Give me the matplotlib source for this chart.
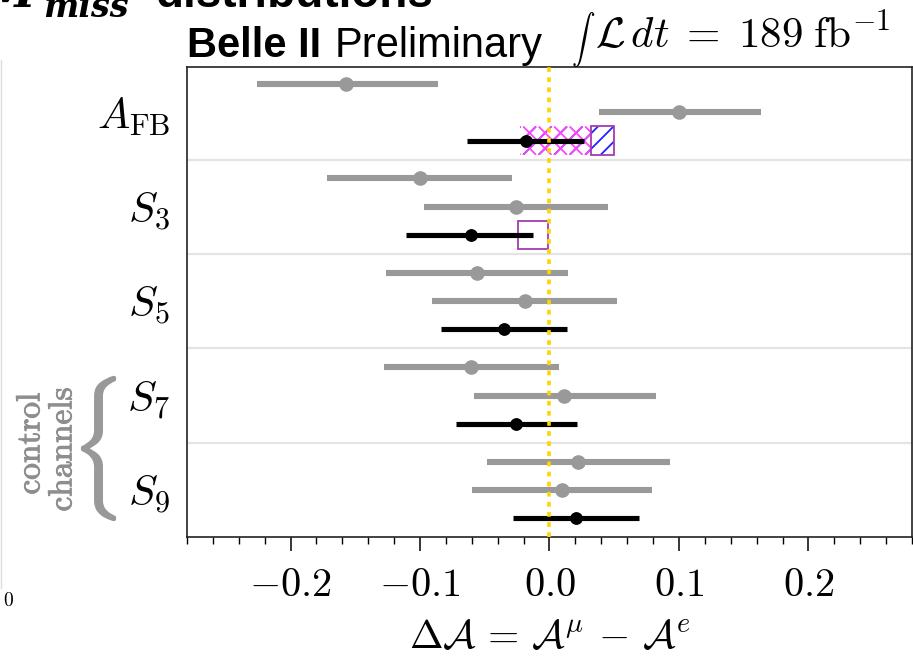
import numpy as np
import matplotlib
matplotlib.use("Agg")
import matplotlib.pyplot as plt
from matplotlib.patches import Rectangle, PathPatch
from matplotlib.textpath import TextPath
from matplotlib.transforms import Affine2D
from matplotlib.lines import Line2D
import matplotlib.patheffects as pe

plt.rcParams['mathtext.fontset'] = 'cm'

# ---------------- data ----------------
observables = [r'$A_{\rm FB}$', r'$S_3$', r'$S_5$', r'$S_7$', r'$S_9$']

gray1_val = [-0.157, -0.100, -0.056, -0.061, 0.022]
gray1_lo  = [-0.226, -0.172, -0.126, -0.128, -0.048]
gray1_hi  = [-0.086, -0.029, 0.014, 0.0075, 0.093]

gray2_val = [0.100, -0.026, -0.019, 0.011, 0.0095]
gray2_lo  = [0.038, -0.097, -0.091, -0.058, -0.060]
gray2_hi  = [0.163, 0.045, 0.052, 0.082, 0.079]

black_val = [-0.0185, -0.061, -0.0355, -0.0255, 0.0203]
black_lo  = [-0.064, -0.111, -0.084, -0.072, -0.028]
black_hi  = [0.027, -0.0124, 0.0137, 0.0214, 0.0695]

# prediction bands (x ranges)
afb_cross = (-0.0224, 0.0322)
afb_blue  = (-0.0224, 0.0497)
afb_box   = (0.0322, 0.0497)
s3_box    = (-0.024, -0.0015)

xticks = [-0.2, -0.1, 0.0, 0.1, 0.2]
xtick_labels = [r'$-0.2$', r'$-0.1$', r'$0.0$', r'$0.1$', r'$0.2$']

# ---------------- layout ----------------
W, H = 913, 658
fig = plt.figure(figsize=(W/100, H/100), dpi=100)
ax_l, ax_r, ax_t, ax_b = 187, 912, 67, 537
ax = fig.add_axes([ax_l/W, 1-ax_b/H, (ax_r-ax_l)/W, (ax_b-ax_t)/H])

stride = 10/3
n = len(observables)
def ypos(k, j):
    return -(k*stride + j)

ax.set_xlim(-0.28, 0.28)
ax.set_ylim(ypos(n-1, 2) - 0.66, 0.6)

gray = '#999999'
for k in range(n):
    for j, (v, lo, hi, col, lw, ms) in enumerate([
            (gray1_val[k], gray1_lo[k], gray1_hi[k], gray, 4.4, 9.5),
            (gray2_val[k], gray2_lo[k], gray2_hi[k], gray, 4.4, 9.5),
            (black_val[k], black_lo[k], black_hi[k], 'black', 3.7, 8.2)]):
        ax.errorbar([v], [ypos(k, j)], xerr=[[v-lo], [hi-v]], fmt='o',
                    color=col, ms=ms, elinewidth=lw, capsize=0, zorder=4)

# separators
for k in range(n-1):
    ax.axhline(ypos(k, 2) - (stride-2)/2, color='#e4e4e4', lw=1.6, zorder=1)


def hatch_rect(x0, x1, y0, y1, direction, color, spacing=15.5, lw=1.3):
    """diagonal hatch lines (45 deg on screen) clipped to a data rectangle"""
    clip = Rectangle((x0, y0), x1 - x0, y1 - y0, transform=ax.transData,
                     facecolor='none', edgecolor='none')
    ax.add_patch(clip)
    (px0, py0) = ax.transData.transform((x0, y0))
    (px1, py1) = ax.transData.transform((x1, y1))
    inv = ax.transData.inverted()
    h = py1 - py0
    for c in np.arange(px0 - h - spacing, px1 + spacing, spacing):
        if direction > 0:
            pts = [(c, py0), (c + h, py1)]
        else:
            pts = [(c + h, py0), (c, py1)]
        d = inv.transform(pts)
        ln, = ax.plot(d[:, 0], d[:, 1], color=color, lw=lw, zorder=3,
                      solid_capstyle='butt')
        ln.set_clip_path(clip)


yb = ypos(0, 2)
hatch_rect(afb_blue[0], afb_blue[1], yb - 0.5, yb + 0.5, +1, '#2222ff')
hatch_rect(afb_cross[0], afb_cross[1], yb - 0.5, yb + 0.5, +1, '#ff44ff')
hatch_rect(afb_cross[0], afb_cross[1], yb - 0.5, yb + 0.5, -1, '#ff44ff')
ax.add_patch(Rectangle((afb_box[0], yb-0.5), afb_box[1]-afb_box[0], 1.0,
                       fill=False, edgecolor='#a33cb0', lw=1.3, zorder=3))
yb3 = ypos(1, 2)
ax.add_patch(Rectangle((s3_box[0], yb3-0.5), s3_box[1]-s3_box[0], 1.0,
                       fill=False, edgecolor='#a33cb0', lw=1.3, zorder=3))

# zero line
ax.axvline(0.0, color='#ffd400', lw=2.6, ls=(0, (1.3, 1.5)), zorder=6)

ax.set_xticks(xticks)
ax.set_xticklabels(xtick_labels, fontsize=29)
ax.set_xticks(np.arange(-0.28, 0.2801, 0.02), minor=True)
ax.tick_params(axis='x', which='major', direction='out', length=10, width=1.1, pad=10)
ax.tick_params(axis='x', which='minor', direction='out', length=5, width=1.0)
ax.set_yticks([ypos(k, 1) for k in range(n)])
ax.set_yticklabels(observables, fontsize=31)
ax.tick_params(axis='y', length=0, pad=12)
ax.set_xlabel(r'$\Delta\mathcal{A} \,=\, \mathcal{A}^{\mu} \,-\, \mathcal{A}^{e}$',
              fontsize=29, labelpad=9)
for s in ax.spines.values():
    s.set_linewidth(1.2)
    s.set_color('#222222')

# ---------------- header texts ----------------
fig.text(187/W, 1-57/H, 'Belle II', fontweight='bold', family='Liberation Sans',
         fontsize=30, va='baseline', ha='left')
fig.text(335/W, 1-57/H, 'Preliminary', family='Liberation Sans',
         fontsize=30, va='baseline', ha='left')
fig.text(571/W, 1-47/H, r'$\int$', fontsize=17, va='baseline', ha='left')
fig.text(595/W, 1-48/H, r'$\mathcal{L}\,dt\;=\;189\;\mathrm{fb}^{-1}$',
         fontsize=31, va='baseline', ha='left')

# slide title (cut at top)
fig.text(155/W, 1-7/H, 'distributions', fontweight='bold', family='Liberation Sans',
         fontsize=33, va='baseline', ha='left')
fig.text(35/W, 1-7/H, 'M', fontweight='bold', style='italic', family='DejaVu Serif',
         fontsize=33, va='baseline', ha='right')
fig.text(43/W, 1-17/H, 'miss', fontweight='bold', style='italic', family='DejaVu Serif',
         fontsize=24, va='baseline', ha='left')

# control channels annotation
cc = '#8e8e8e'
for x, y, s in [(30, 443, r'$\mathrm{control}$'), (62, 449, r'$\mathrm{channels}$')]:
    fig.text(x/W, 1-y/H, s, rotation=90, fontsize=24, color=cc, ha='center', va='center',
             path_effects=[pe.withStroke(linewidth=0.7, foreground=cc)])
tp = TextPath((0, 0), r'$\{$', size=100)
ext = tp.get_extents()
bw, bh = 33, 143
tr = (Affine2D().translate(-ext.x0, -ext.y0)
      .scale(bw/ext.width, bh/ext.height)
      .translate(82, H-520)
      .scale(1/W, 1/H) + fig.transFigure)
fig.add_artist(PathPatch(tp, transform=tr, facecolor=gray, edgecolor=gray, lw=1.6))

# leftovers of neighbouring panel
fig.add_artist(Line2D([1/W, 1/W], [1-60/H, 1-588/H], transform=fig.transFigure,
                      color='#dddddd', lw=1))
fig.text(3/W, 1-600/H, r'$0$', fontsize=14, va='center', ha='left')

fig.savefig('out.png', dpi=100)
